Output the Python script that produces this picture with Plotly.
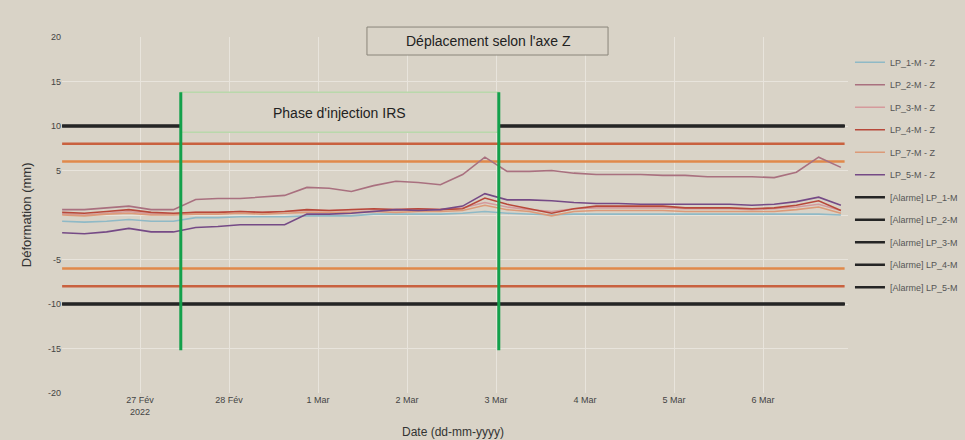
import pandas as pd
import plotly.graph_objects as go

# Sampling instants (every 6 h) of the Z-axis displacement sensors
dates = pd.date_range("2022-02-26 03:00", "2022-03-06 21:00", freq="6h")

# Displacement along Z (mm) for each sensor
lp1 = [-0.7, -0.8, -0.7, -0.5, -0.7, -0.7, -0.3, -0.3, -0.2, -0.2, -0.2, -0.1,
       -0.1, -0.1, 0.1, 0.1, 0.1, 0.1, 0.2, 0.4, 0.2, 0.1, 0.0, 0.1,
       0.1, 0.1, 0.1, 0.1, 0.1, 0.1, 0.1, 0.1, 0.1, 0.1, 0.1, 0.0]
lp2 = [0.6, 0.6, 0.8, 1.0, 0.6, 0.6, 1.75, 1.85, 1.85, 2.0, 2.2, 3.1,
       3.0, 2.65, 3.3, 3.8, 3.65, 3.4, 4.55, 6.5, 4.9, 4.9, 5.0, 4.7,
       4.55, 4.55, 4.55, 4.45, 4.45, 4.3, 4.3, 4.3, 4.2, 4.8, 6.5, 5.35]
lp3 = [0.1, 0.0, 0.2, 0.4, 0.1, 0.1, 0.3, 0.3, 0.4, 0.3, 0.4, 0.5,
       0.5, 0.6, 0.6, 0.6, 0.7, 0.6, 0.8, 1.4, 0.9, 0.6, 0.4, 0.7,
       0.8, 0.8, 0.8, 0.8, 0.7, 0.7, 0.7, 0.6, 0.7, 0.9, 1.2, 0.5]
lp4 = [0.3, 0.2, 0.4, 0.6, 0.3, 0.2, 0.3, 0.3, 0.4, 0.3, 0.4, 0.6,
       0.5, 0.6, 0.7, 0.6, 0.7, 0.6, 0.7, 1.9, 1.2, 0.7, 0.2, 0.7,
       1.0, 1.0, 1.0, 1.0, 0.8, 0.8, 0.8, 0.7, 0.8, 1.1, 1.6, 0.5]
lp5 = [0.0, -0.1, 0.1, 0.2, 0.0, 0.0, 0.1, 0.1, 0.2, 0.1, 0.2, 0.3,
       0.3, 0.3, 0.4, 0.3, 0.4, 0.4, 0.5, 1.1, 0.6, 0.4, -0.1, 0.4,
       0.5, 0.5, 0.5, 0.5, 0.4, 0.4, 0.4, 0.4, 0.4, 0.6, 0.9, 0.2]
lp6 = [-2.0, -2.1, -1.9, -1.5, -1.9, -1.9, -1.4, -1.3, -1.1, -1.1, -1.1, 0.1,
       0.1, 0.2, 0.4, 0.6, 0.5, 0.6, 1.0, 2.4, 1.7, 1.7, 1.6, 1.4,
       1.3, 1.3, 1.2, 1.2, 1.2, 1.2, 1.2, 1.1, 1.2, 1.5, 2.0, 1.1]

sensor_names = ["LP_1-M - Z", "LP_2-M - Z", "LP_3-M - Z",
                "LP_4-M - Z", "LP_7-M - Z", "LP_5-M - Z"]
sensor_values = [lp1, lp2, lp3, lp4, lp5, lp6]
sensor_colors = ["#8fb9c6", "#a9707f", "#d59a9c", "#b8483a", "#dc9a78", "#754a86"]

# Threshold levels (mm)
alarm_names = ["[Alarme] LP_1-M", "[Alarme] LP_2-M", "[Alarme] LP_3-M",
               "[Alarme] LP_4-M", "[Alarme] LP_5-M"]
alarm_level = 10
vigilance_level = 8
warning_level = 6

# Injection phase
injection_start = "2022-02-27 11:00"
injection_end = "2022-03-03 00:45"

tick_dates = ["2022-02-27", "2022-02-28", "2022-03-01", "2022-03-02",
              "2022-03-03", "2022-03-04", "2022-03-05", "2022-03-06"]
tick_labels = ["27 Fév<br>2022", "28 Fév", "1 Mar", "2 Mar",
               "3 Mar", "4 Mar", "5 Mar", "6 Mar"]

BG = "#d9d3c7"
GRID = "#e8e4dc"

fig = go.Figure()

t0, t1 = dates[0], pd.Timestamp("2022-03-06 22:00")

# threshold lines without legend entries
for lvl, col in [(vigilance_level, "#c9613f"), (warning_level, "#e0894a")]:
    fig.add_trace(go.Scatter(x=[t0, t1, None, t0, t1], y=[lvl, lvl, None, -lvl, -lvl],
                             mode="lines", line=dict(color=col, width=2.5),
                             showlegend=False, hoverinfo="skip"))

for i, (name, vals, col) in enumerate(zip(sensor_names, sensor_values, sensor_colors)):
    fig.add_trace(go.Scatter(x=dates, y=vals, name=name, mode="lines",
                             line=dict(color=col, width=1.6),
                             legendgroup="g%d" % i))

for j, name in enumerate(alarm_names):
    fig.add_trace(go.Scatter(x=[t0, t1, None, t0, t1],
                             y=[alarm_level, alarm_level, None, -alarm_level, -alarm_level],
                             name=name, mode="lines",
                             line=dict(color="#252525", width=2.5),
                             legendgroup="a%d" % j))

# injection phase frame and limits
fig.add_shape(type="rect", xref="x", yref="y", x0=injection_start, x1=injection_end,
              y0=9.3, y1=13.8, fillcolor=BG, line=dict(color="#b9d8ab", width=1.5),
              layer="above")
for xd in [injection_start, injection_end]:
    fig.add_shape(type="line", xref="x", yref="y", x0=xd, x1=xd, y0=-15.2, y1=13.8,
                  line=dict(color="#13a04b", width=3), layer="above")

fig.add_annotation(x=pd.Timestamp(injection_start) + (pd.Timestamp(injection_end) - pd.Timestamp(injection_start)) / 2,
                   y=11.5, xref="x", yref="y", text="Phase d'injection IRS",
                   showarrow=False, font=dict(size=14, color="#222", family="Liberation Sans"))

# title box
fig.add_shape(type="rect", xref="paper", yref="paper", x0=0.388, x1=0.6947,
              y0=0.9494, y1=1.028, fillcolor=BG, line=dict(color="#8a857a", width=1),
              layer="above")
fig.add_annotation(x=0.542, y=0.9888, xref="paper", yref="paper",
                   xanchor="center", yanchor="middle",
                   text="Déplacement selon l'axe Z", showarrow=False,
                   font=dict(size=14, color="#222", family="Liberation Sans"))

# axis titles
fig.add_annotation(x=-0.0455, y=0.5, xref="paper", yref="paper", text="Déformation (mm)",
                   xanchor="center", yanchor="middle",
                   textangle=-90, showarrow=False,
                   font=dict(size=13, color="#333", family="Liberation Sans"))
fig.add_annotation(x=0.4975, y=-0.1096, xref="paper", yref="paper", text="Date (dd-mm-yyyy)",
                   xanchor="center", yanchor="middle",
                   showarrow=False, font=dict(size=12, color="#333", family="Liberation Sans"))

fig.update_layout(
    width=965, height=440,
    margin=dict(l=62, r=117, t=37, b=47, autoexpand=False),
    paper_bgcolor=BG, plot_bgcolor=BG,
    font=dict(family="Liberation Sans", size=9, color="#444"),
    showlegend=True,
    legend=dict(x=1.0025, y=0.97, xanchor="left", yanchor="top",
                bgcolor="rgba(0,0,0,0)", font=dict(size=9, color="#555"),
                traceorder="grouped", tracegroupgap=3.5),
    xaxis=dict(range=["2022-02-26 02:58", "2022-03-06 22:55"],
               tickvals=tick_dates, ticktext=tick_labels,
               showgrid=True, gridcolor=GRID, gridwidth=1,
               zeroline=False, showline=False, ticks=""),
    yaxis=dict(range=[-20, 20], tickvals=[20, 15, 10, 5, 0, -5, -10, -15, -20],
               ticktext=["20", "15", "10", "5", "", "-5", "-10", "-15", "-20"],
               showgrid=True, gridcolor=GRID, gridwidth=1,
               zeroline=False, showline=False, ticks=""),
)

fig.write_html("out.html")
